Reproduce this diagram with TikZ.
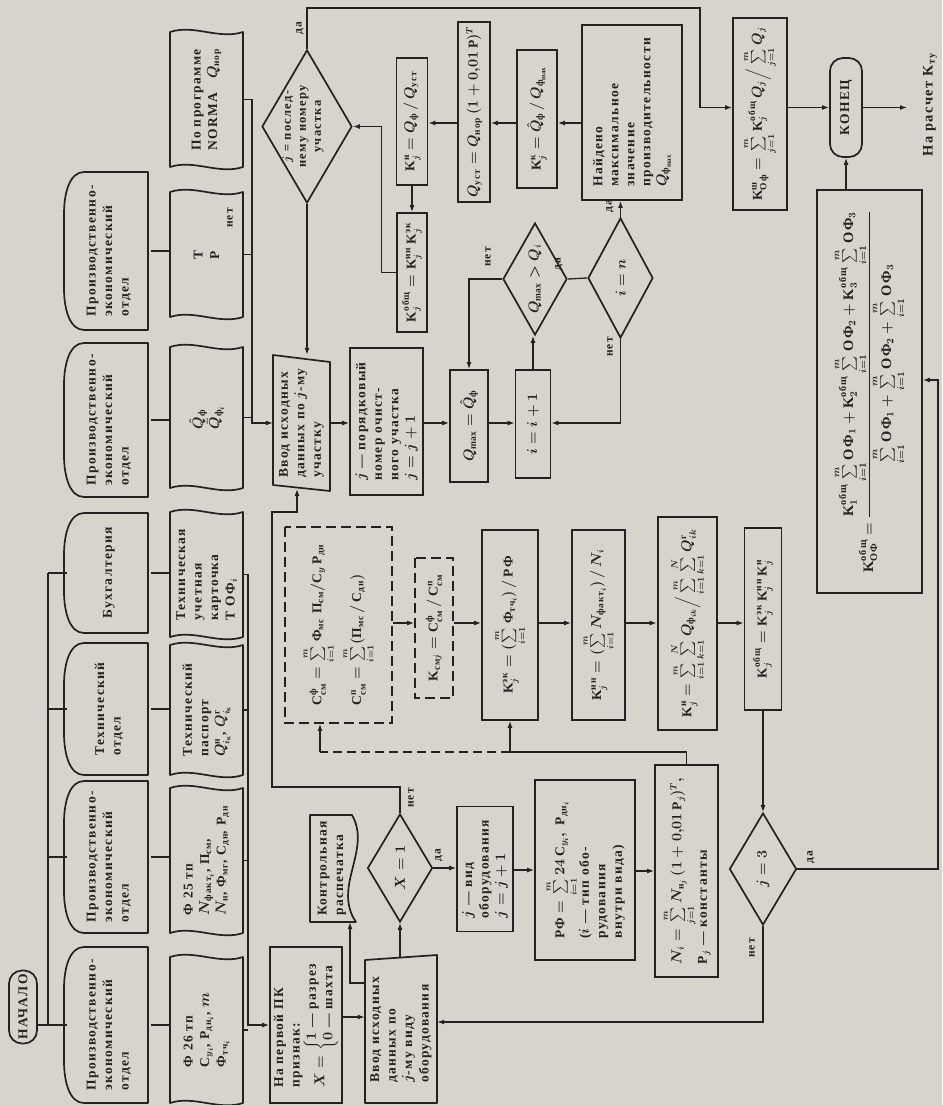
\documentclass[tikz,border=0pt]{standalone}
\usepackage{amsmath}
\usepackage{fontspec}
\setmainfont{Liberation Serif}[LetterSpace=10]
\usetikzlibrary{arrows.meta,shapes.geometric,calc}
\definecolor{paper}{RGB}{215,212,203}
\definecolor{ink}{RGB}{36,34,32}
\newcommand\fs{\fontsize{13.5}{16.5}\selectfont\bfseries\boldmath}
\newcommand\fsm{\fontsize{11.5}{13}\selectfont\bfseries\boldmath}
\newcommand\fsl{\fontsize{14.5}{17}\selectfont\bfseries\boldmath}
\newcommand\tx[1]{\text{#1}}
\newcommand\KK{\mathrm{K}}
\newcommand\tape[4]{%
  \draw[shp] (170,#2) .. controls (194,#2-8) and (219,#2+8) .. (243,#2) -- (243,#3) .. controls (219,#3+8) and (194,#3-8) .. (170,#3) -- cycle;
  \node[minimum width={#3-#2}, minimum height=73, align=left] (#1) at (206.5,{(#2+#3)/2}) {#4};}
\newcommand\dept[4]{%
  \draw[shp] (148,#2) -- (84,#2) .. controls (70,#2) and (64,#2+20) .. (64,#2+42) -- (64,#3-42) .. controls (64,#3-20) and (70,#3) .. (84,#3) -- (148,#3) -- cycle;
  \node[minimum width={#3-#2}, minimum height=84, align=left] (#1) at (109,{(#2+#3)/2}) {#4};}
\begin{document}
\begin{tikzpicture}[x=1pt,y=-1pt,
  every node/.style={rotate=90, font=\fs, text=ink, inner sep=1pt},
  wh/.style 2 args={minimum width=#2, minimum height=#1},
  shp/.style={draw=ink, line width=1.7pt, line join=round},
  bx/.style={draw=ink, line width=1.7pt, rectangle},
  dbx/.style={draw=ink, line width=1.9pt, dash pattern=on 10pt off 5pt},
  dia/.style={diamond, draw=ink, line width=1.7pt, inner sep=0pt},
  term/.style={draw=ink, line width=1.7pt, rounded corners=13pt},
  ln/.style={draw=ink, line width=1.3pt},
  dln/.style={draw=ink, line width=1.3pt, dash pattern=on 9pt off 5pt},
  arr/.style={draw=ink, line width=1.3pt, -{Latex[length=7pt,width=5pt]}},
  lab/.style={font=\fsm, inner sep=0pt},
]
\fill[paper] (0,0) rectangle (942,1105);
\useasboundingbox (0,0) rectangle (942,1105);

% ---------- left column ----------
\node[term, wh={28}{73}] (START) at (23,1007) {НАЧАЛО};
\dept{D1}{172}{330}{Производственно-\\экономический\\отдел}
\dept{D2}{343}{497}{Производственно-\\экономический\\отдел}
\dept{D3}{513}{633}{Бухгалтерия}
\dept{D4}{643}{775}{Технический\\отдел}
\dept{D5}{781}{933}{Производственно-\\экономический\\отдел}
\dept{D6}{947}{1103}{Производственно-\\экономический\\отдел}

\tape{P1}{32}{167}{По программе\\NORMA\quad $Q_{\tx{нор}}$}
\tape{P2}{192}{317}{Т\\Р}
\tape{P3}{347}{488}{$\hat{Q}_{\tx{ф}}$\\$\bar{Q}_{\tx{ф}_i}$}
\tape{P4}{512}{637}{Техническая\\учетная\\карточка\\Т ОФ$_i$}
\tape{P5}{645}{775}{Технический\\паспорт\\$Q^{\tx{н}}_{i_{\tx{к}}}$, $Q^{\tx{г}}_{i_{\tx{к}}}$}
\tape{P6}{788}{933}{Ф 25 тп\\$N_{\tx{факт}_i}$, $\tx{П}_{\tx{см}}$,\\$N_{\tx{н}}$, $\tx{Ф}_{\tx{мг}}$, $\mathrm{C}_{\tx{дн}}$, $\tx{Р}_{\tx{дн}}$}
\tape{P7}{957}{1103}{Ф 26 тп\\$\mathrm{C}_{y_i}$, $\tx{Р}_{\tx{дн}_i}$, $m$\\$\tx{Ф}_{\tx{тч}_i}$}

\coordinate (lbx) at (48,0);
\coordinate (ubx) at (252,0);
\coordinate (wbx) at (248,0);

% ---------- main column nodes ----------
\node[bx, wh={72}{156}, align=left] (A1) at (306,1025) {На первой ПК\\признак:\\$X=\left\{\begin{array}{@{}l@{}}1\tx{ — разрез}\\0\tx{ — шахта}\end{array}\right.$};
\draw[shp] (365,960) -- (437,955) -- (437,1103) -- (365,1103) -- cycle;
\node[wh={72}{146}, align=left] (A2) at (401,1030) {Ввод исходных\\данных по\\$j$-му виду\\оборудования};
\draw[shp] (310,815) -- (352,815) .. controls (372,850) and (332,887) .. (356,922) -- (310,922) -- cycle;
\node[wh={50}{107}, align=left] (A3) at (332,868.5) {Контрольная\\распечатка};
\node[dia, wh={65}{108}] (DX) at (400,868) {};
\node (DXt) at (DX) {$X=1$};
\node[bx, wh={56}{125}, align=left] (B1) at (485,869) {$j$ — вид\\оборудования\\$j=j+1$};
\node[bx, wh={100}{180}, align=left] (B2) at (585,870) {$\tx{РФ}=\sum\limits_{i=1}^{m}24\,\mathrm{C}_{y_i},\ \tx{Р}_{\tx{дн}_i}$\\($i$ — тип обо-\\рудования\\внутри вида)};
\node[bx, wh={63}{212}, align=left] (B3) at (686.5,871) {$N_i=\sum\limits_{j=1}^{m}N_{\tx{н}_j}\,(1+0{,}01\,\tx{Р}_j)^T,$\\$\tx{Р}_j$ — константы};
\node[dia, wh={67}{112}] (B4) at (763,869) {};
\node (B4t) at (B4) {$j=3$};

\node[dbx, wh={107}{196}, align=left] (C0) at (338.5,625) {$\mathrm{C}^{\tx{ф}}_{\tx{см}}=\sum\limits_{i=1}^{m}\tx{Ф}_{\tx{мс}}\;\tx{П}_{\tx{см}}/\mathrm{C}_y\,\tx{Р}_{\tx{дн}}$\\[6pt]$\mathrm{C}^{\tx{п}}_{\tx{см}}=\sum\limits_{i=1}^{m}(\tx{П}_{\tx{мс}}\,/\,\mathrm{C}_{\tx{дн}})$};
\node[dbx, wh={38}{140}] (C1) at (434,628) {$\KK_{\tx{см}j}=\mathrm{C}^{\tx{ф}}_{\tx{см}}\,/\,\mathrm{C}^{\tx{п}}_{\tx{см}}$};
\node[bx, wh={56}{190}] (C2) at (510,625) {$\KK^{\tx{эк}}_j=(\sum\limits_{i=1}^{m}\tx{Ф}_{\tx{тч}_i})\,/\,\tx{РФ}$};
\node[bx, wh={53}{190}] (C3) at (598.5,625) {$\KK^{\tx{ин}}_j=(\sum\limits_{i=1}^{m}N_{\tx{факт}_i})\,/\,N_i$};
\node[bx, line width=2.7pt, wh={59}{213}] (C4) at (687.5,623.5) {$\KK^{\tx{и}}_j=\sum\limits_{i=1}^{m}\sum\limits_{k=1}^{N}Q_{\tx{ф}_{ik}}\Big/\sum\limits_{i=1}^{m}\sum\limits_{k=1}^{N}Q^{\tx{г}}_{ik}$};
\node[bx, wh={37}{182}] (C5) at (763,619) {$\KK^{\tx{общ}}_j=\KK^{\tx{эк}}_j\,\KK^{\tx{ин}}_j\,\KK^{\tx{и}}_j$};

\node[bx, wh={105}{403}, font=\fsl] (E) at (869.5,391.5) {$\KK^{\tx{общ}}_{\tx{ОФ}}=\dfrac{\KK^{\tx{общ}}_1\sum\limits_{i=1}^{m}\tx{ОФ}_1+\KK^{\tx{общ}}_2\sum\limits_{i=1}^{m}\tx{ОФ}_2+\KK^{\tx{общ}}_3\sum\limits_{i=1}^{m}\tx{ОФ}_3}{\sum\limits_{i=1}^{m}\tx{ОФ}_1+\sum\limits_{i=1}^{m}\tx{ОФ}_2+\sum\limits_{i=1}^{m}\tx{ОФ}_3}$};
\node[term, wh={32}{99}] (END) at (846,107.5) {КОНЕЦ};
\coordinate (OUT) at (907,107.5);
\node[font=\fsl] (OUTt) at (930,105) {На расчет $\KK_{\tx{ту}}$};
\node[bx, wh={54}{192}] (F) at (760,114) {$\KK^{\tx{ш}}_{\tx{Оф}}=\sum\limits_{j=1}^{m}\KK^{\tx{общ}}_j\,Q_j\Big/\sum\limits_{j=1}^{m}Q_j$};
\node[bx, wh={100}{175}, align=left, font=\fontsize{13.5}{16}\selectfont\bfseries\boldmath] (U5) at (632,112.5) {Найдено\\максимальное\\значение\\производительности\\$Q_{\tx{ф}_{\max}}$};
\node[bx, wh={40}{138}] (U4) at (537,119) {$\KK^{\tx{к}}_j=\hat{Q}_{\tx{ф}}\,/\,Q_{\tx{ф}_{\max}}$};
\node[bx, wh={32}{180}] (U3) at (474,112) {$Q_{\tx{уст}}=Q_{\tx{нор}}\,(1+0{,}01\,\tx{Р})^T$};
\node[bx, wh={31}{127}] (U1) at (412,121.5) {$\KK^{\tx{и}}_j=Q_{\tx{ф}}\,/\,Q_{\tx{уст}}$};
\node[bx, wh={30}{119}] (U2) at (412,272.5) {$\KK^{\tx{общ}}_j=\KK^{\tx{ин}}_j\,\KK^{\tx{эк}}_j$};
\node[dia, wh={90}{153}] (DJ) at (307,126.5) {};
\node[align=center, font=\fontsize{12.5}{15}\selectfont\bfseries\boldmath] (DJt) at (303,126.5) {$j$ = послед-\\нему номеру\\участка};
\node[dia, wh={64}{112}] (DQ) at (535,279) {};
\node (DQt) at (DQ) {$Q_{\max}>Q_i$};
\node[dia, wh={65}{120}] (DN) at (620.5,278) {};
\node (DNt) at (DN) {$i=n$};

\draw[shp] (273,355) -- (330,362) -- (330,491) -- (273,485) -- cycle;
\node[wh={57}{136}, align=left] (B0) at (301.5,423) {Ввод исходных\\данных по $j$-му\\участку};
\node[bx, wh={73}{147}, align=left] (B5) at (386.5,421.5) {$j$ — порядковый\\номер очист-\\ного участка\\$j=j+1$};
\node[bx, wh={38}{112}] (B6) at (469,426) {$Q_{\max}=\hat{Q}_{\tx{ф}}$};
\node[bx, wh={35}{108}] (B7) at (533,424) {$i=i+1$};

% ---------- labels ----------
\node[lab] (l1) at (300,28) {да};
\node[lab] (l2) at (230,218) {нет};
\node[lab] (l3) at (439,855) {да};
\node[lab] (l4) at (411,798) {нет};
\node[lab] (l5) at (488,257) {нет};
\node[lab] (l6) at (559,264) {да};
\node[lab] (l7) at (610,206) {да};
\node[lab] (l8) at (610,347) {нет};
\node[lab] (l9) at (811,857) {да};
\node[lab] (l10) at (752,948) {нет};

% ---------- connectors: left part ----------
\draw[ln] (D3.north -| lbx) -- (D6.north -| lbx);
\foreach \d in {D3,D4,D5,D6} \draw[ln] (\d.north -| lbx) -- (\d.north);
\draw[ln] (START.south |- D6.north) -- (D6.north -| lbx);
\draw[ln] (D1.south) -- (D1.south -| P2.north);
\draw[ln] (D2.south) -- (D2.south -| P3.north);
\draw[ln] (D3.south) -- (D3.south -| P4.north);
\draw[ln] (D4.south) -- (D4.south -| P5.north);
\draw[ln] (D5.south) -- (D5.south -| P6.north);
\draw[ln] (D6.south) -- (D6.south -| P7.north);

\draw[arr] (P1.south) -- (P1.south -| ubx) |- (B0.north);
\draw[ln] (P2.south) -- (P2.south -| ubx);
\draw[ln] (P3.south) -- (P3.south -| ubx);
\draw[arr] (P4.south) -- (P4.south -| wbx) |- (A1.north);
\draw[ln] (P5.south) -- (P5.south -| wbx);
\draw[ln] (P6.south) -- (P6.south -| wbx);
\draw[ln] (P7.south) -- (P7.south -| wbx);

% ---------- connectors: main ----------
\coordinate (y1017) at (0,1017);
\coordinate (c1) at (350,983);
\coordinate (c2) at (272,787);
\coordinate (c3) at (297,512);
\coordinate (c4) at (0,957);
\coordinate (c4b) at (0,489);
\draw[arr] (A1.south |- y1017) -- (A2.north |- y1017);
\draw[arr] (A2.north |- c1) -- (c1) -- (c1 |- A3.west);
\draw[arr] (DX |- c4) -- (DX.west);
\draw[arr] (DX.south) -- (B1.north |- DX.south);
\draw[arr] (DX.east) |- (c2) -- (c2 |- c3) -- (c3) -- (c3 |- c4b);
\draw[arr] (B1.south |- B2) -- (B2.north);
\draw[arr] (B2.south |- B3) -- (B3.north);

\coordinate (c8) at (0,752);
\coordinate (c9) at (320,752);
\draw[ln] (B3.east) |- (C2.west |- c8);
\draw[arr] (C2.west |- c8) -- (C2.west);
\draw[dln] (C2.west |- c8) -- (c9);
\draw[arr] (c9) -- (c9 |- C0.west);
\coordinate (r623) at (0,623);
\draw[arr] (C0.south |- r623) -- (C1.north |- r623);
\draw[arr] (C1.south |- r623) -- (C2.north |- r623);
\draw[arr] (C2.south |- r623) -- (C3.north |- r623);
\draw[arr] (C3.south |- r623) -- (C4.north |- r623);
\draw[arr] (C4.south |- r623) -- (C5.north |- r623);
\draw[arr] (C5.west) -- (C5.west |- B4.east);

\coordinate (c6) at (938,380);
\coordinate (c7) at (0,1022);
\draw[arr] (B4.south) -| (c6) -- (E.south |- c6);
\draw[arr] (B4.west) |- (A2.south |- c7);
\draw[arr] (END.west |- E.east) -- (END.west);
\draw[arr] (END.south) -- (OUT);
\draw[arr] (F.south |- END) -- (END.north);

\coordinate (c5) at (700,8);
\draw[arr] (DJ.east) |- (c5) |- (F.north |- END);
\draw[arr] (DJ.west) -- (DJ.west |- B0.east);
\draw[arr] (B0.south) -- (B5.north |- B0.south);
\draw[arr] (B5.south |- B0) -- (B6.north |- B0);
\draw[arr] (B6.south |- B0) -- (B7.north |- B0);
\draw[arr] (DN.west) |- (B7.south |- B0);
\draw[arr] (B7.east) -- (B7.east |- DQ.west);
\draw[arr] (DQ.north) -| (B6.east);
\draw[ln] (DQ.south) -- (DN.north);
\draw[arr] (DN.east) -- (DN.east |- U5.west);
\coordinate (r123) at (0,123);
\draw[arr] (U5.north |- r123) -- (U4.south |- r123);
\draw[arr] (U4.north |- r123) -- (U3.south |- r123);
\draw[arr] (U3.north |- r123) -- (U1.south |- r123);
\draw[arr] (U1.west) -- (U2.east);
\draw[arr] (U2.north) -- ++(-15,0) |- (DJ.south);
\end{tikzpicture}
\end{document}
